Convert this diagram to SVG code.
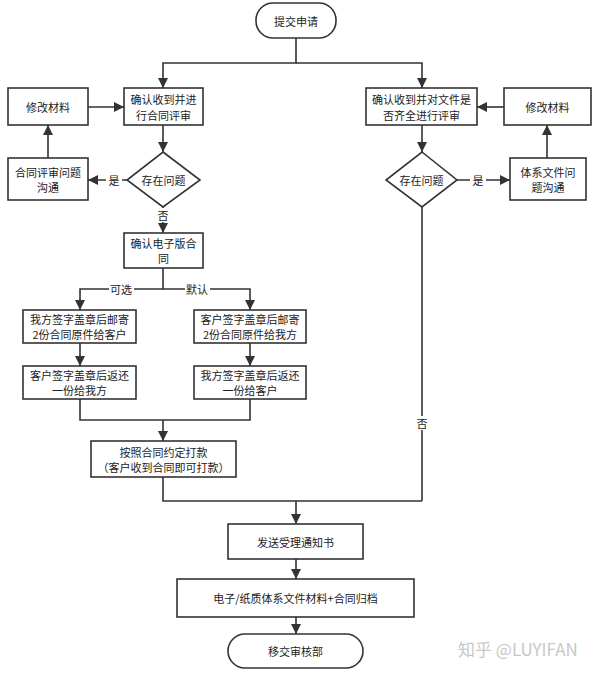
<svg xmlns="http://www.w3.org/2000/svg" width="599" height="673" viewBox="0 0 599 673">
<defs>
<marker id="ah" viewBox="0 0 10 10" refX="10" refY="5" markerWidth="10" markerHeight="10" markerUnits="userSpaceOnUse" orient="auto">
<path d="M0,0 L10,5 L0,10 z" fill="#333"/>
</marker>
<style>
.n{fill:#fff;stroke:#333;stroke-width:1.6}
.t{font-family:"Noto Sans CJK SC","Noto Sans",sans-serif;font-size:11px;fill:#222;text-anchor:middle;dominant-baseline:central}
.c{fill:none;stroke:#333;stroke-width:1.6}
.lb{fill:#fff}
.wm{font-family:"Noto Sans CJK SC","Noto Sans",sans-serif;font-size:17px;fill:#c8c8c8;dominant-baseline:central}
</style>
</defs>
<rect width="599" height="673" fill="#fff"/>
<g id="connectors">
<path class="c" d="M296,38 V63 H163 V88" marker-end="url(#ah)"/>
<path class="c" d="M296,63 H422 V88" marker-end="url(#ah)"/>
<path class="c" d="M88,107 H124" marker-end="url(#ah)"/>
<path class="c" d="M163,125 V152" marker-end="url(#ah)"/>
<path class="c" d="M127,180 H88" marker-end="url(#ah)"/>
<path class="c" d="M48,158 V125" marker-end="url(#ah)"/>
<path class="c" d="M163,207 V233" marker-end="url(#ah)"/>
<path class="c" d="M163,268 V289 H80 V310" marker-end="url(#ah)"/>
<path class="c" d="M163,289 H250 V310" marker-end="url(#ah)"/>
<path class="c" d="M80,343 V366" marker-end="url(#ah)"/>
<path class="c" d="M250,343 V366" marker-end="url(#ah)"/>
<path class="c" d="M80,399 V420 H250 V399"/>
<path class="c" d="M163,420 V441" marker-end="url(#ah)"/>
<path class="c" d="M163,477 V501 H422"/>
<path class="c" d="M296,501 V524" marker-end="url(#ah)"/>
<path class="c" d="M504,107 H477" marker-end="url(#ah)"/>
<path class="c" d="M422,125 V152" marker-end="url(#ah)"/>
<path class="c" d="M457,180 H510" marker-end="url(#ah)"/>
<path class="c" d="M547,158 V125" marker-end="url(#ah)"/>
<path class="c" d="M422,207 V501"/>
<path class="c" d="M296,559 V579" marker-end="url(#ah)"/>
<path class="c" d="M296,617 V634" marker-end="url(#ah)"/>
<rect class="lb" x="106" y="173" width="16" height="14"/>
<text class="t" x="114" y="180">是</text>
<rect class="lb" x="155" y="208" width="16" height="14"/>
<text class="t" x="163" y="215">否</text>
<rect class="lb" x="109" y="282" width="25" height="14"/>
<text class="t" x="121" y="289">可选</text>
<rect class="lb" x="185" y="282" width="25" height="14"/>
<text class="t" x="197" y="289">默认</text>
<rect class="lb" x="470" y="173" width="16" height="14"/>
<text class="t" x="478" y="180">是</text>
<rect class="lb" x="414" y="416" width="16" height="14"/>
<text class="t" x="422" y="423">否</text>
</g>
<g id="start">
<rect class="n" x="256" y="3" width="80" height="35" rx="17" ry="17"/>
<text class="t" x="296" y="20.5">提交申请</text>
</g>
<g id="review-contract">
<rect class="n" x="124" y="88" width="79" height="37"/>
<text class="t" x="163.5" y="99">确认收到并进</text>
<text class="t" x="163.5" y="115">行合同评审</text>
</g>
<g id="modify-left">
<rect class="n" x="8" y="88" width="80" height="37"/>
<text class="t" x="48" y="106.5">修改材料</text>
</g>
<g id="issue-left">
<path class="n" d="M163,152 L200,180 L163,207 L127,180 Z"/>
<text class="t" x="163.5" y="180">存在问题</text>
</g>
<g id="comm-left">
<rect class="n" x="8" y="158" width="80" height="42"/>
<text class="t" x="48" y="172">合同评审问题</text>
<text class="t" x="48" y="187">沟通</text>
</g>
<g id="confirm-e">
<rect class="n" x="124" y="233" width="79" height="35"/>
<text class="t" x="163.5" y="243">确认电子版合</text>
<text class="t" x="163.5" y="258">同</text>
</g>
<g id="opt-a1">
<rect class="n" x="23" y="310" width="113" height="33"/>
<text class="t" x="79.5" y="319">我方签字盖章后邮寄</text>
<text class="t" x="79.5" y="334">2份合同原件给客户</text>
</g>
<g id="opt-b1">
<rect class="n" x="194" y="310" width="112" height="33"/>
<text class="t" x="250" y="319">客户签字盖章后邮寄</text>
<text class="t" x="250" y="334">2份合同原件给我方</text>
</g>
<g id="opt-a2">
<rect class="n" x="23" y="366" width="113" height="33"/>
<text class="t" x="79.5" y="375">客户签字盖章后返还</text>
<text class="t" x="79.5" y="390">一份给我方</text>
</g>
<g id="opt-b2">
<rect class="n" x="194" y="366" width="112" height="33"/>
<text class="t" x="250" y="375">我方签字盖章后返还</text>
<text class="t" x="250" y="390">一份给客户</text>
</g>
<g id="pay">
<rect class="n" x="91" y="441" width="145" height="36"/>
<text class="t" x="163.5" y="451.5">按照合同约定打款</text>
<text class="t" x="163.5" y="466.5">（客户收到合同即可打款）</text>
</g>
<g id="review-docs">
<rect class="n" x="366" y="88" width="111" height="37"/>
<text class="t" x="421.5" y="99">确认收到并对文件是</text>
<text class="t" x="421.5" y="115">否齐全进行评审</text>
</g>
<g id="modify-right">
<rect class="n" x="504" y="88" width="87" height="37"/>
<text class="t" x="547.5" y="106.5">修改材料</text>
</g>
<g id="issue-right">
<path class="n" d="M422,152 L457,180 L422,207 L386,180 Z"/>
<text class="t" x="421.5" y="180">存在问题</text>
</g>
<g id="comm-right">
<rect class="n" x="510" y="158" width="76" height="42"/>
<text class="t" x="548" y="172">体系文件问</text>
<text class="t" x="548" y="187">题沟通</text>
</g>
<g id="notice">
<rect class="n" x="228" y="524" width="135" height="35"/>
<text class="t" x="295.5" y="541.5">发送受理通知书</text>
</g>
<g id="archive">
<rect class="n" x="177" y="579" width="237" height="38"/>
<text class="t" x="295.5" y="598">电子/纸质体系文件材料+合同归档</text>
</g>
<g id="end">
<rect class="n" x="228" y="634" width="135" height="34" rx="17" ry="17"/>
<text class="t" x="295.5" y="651">移交审核部</text>
</g>
<text class="wm" x="458" y="648">知乎 @LUYIFAN</text>
</svg>
